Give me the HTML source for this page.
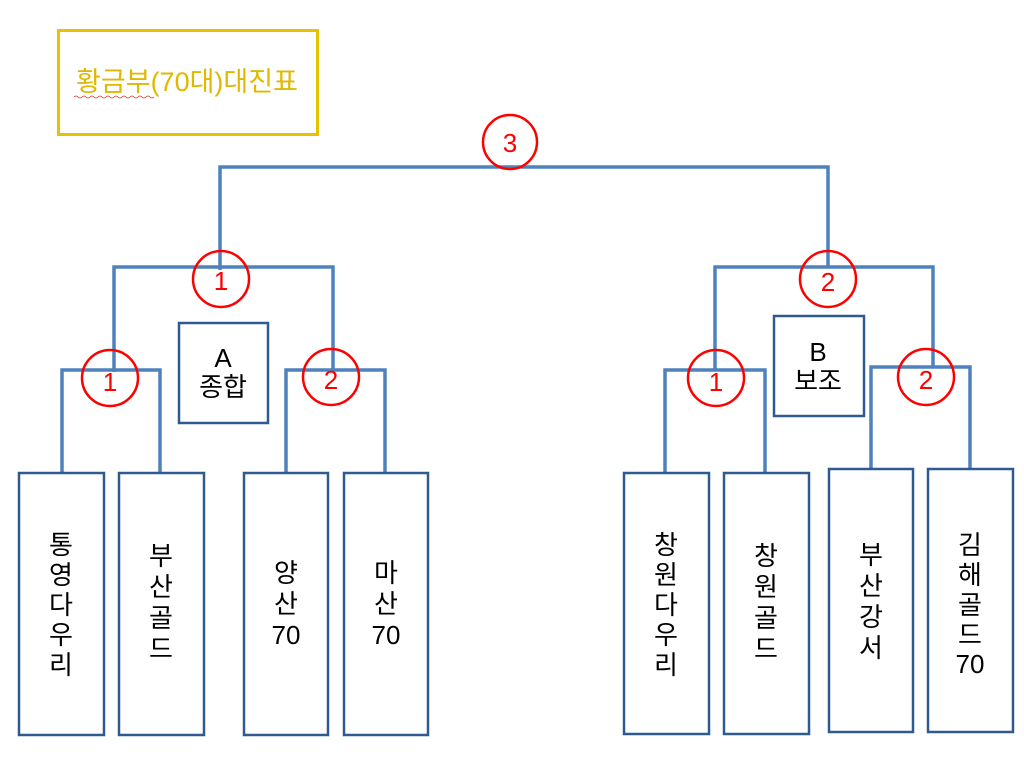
<!DOCTYPE html>
<html><head><meta charset="utf-8"><style>
html,body{margin:0;padding:0;background:#fff;}
svg{display:block;}
text{font-family:"Liberation Sans","Noto Sans CJK KR",sans-serif;}
</style></head><body>
<svg width="1024" height="757" viewBox="0 0 1024 757" xmlns="http://www.w3.org/2000/svg">
<rect x="58.5" y="30.5" width="259" height="104" fill="none" stroke="#e6c200" stroke-width="3"/>
<text x="187" y="91" font-size="27" fill="#e0b800" text-anchor="middle">황금부(70대)대진표</text>
<path d="M74 97 q2 -2 4 0 t4 0 t4 0 t4 0 t4 0 t4 0 t4 0 t4 0 t4 0 t4 0 t4 0 t4 0 t4 0 t4 0 t4 0 t4 0 t4 0 t4 0 t4 0 t4 0" fill="none" stroke="#e03030" stroke-width="0.8"/>
<g fill="none" stroke="#4f81bd" stroke-width="3.5">
<path d="M220 270 V167 H828 V267"/>
<path d="M114 372 V267 H333 V372"/>
<path d="M62 472 V370 H160 V472"/>
<path d="M286 472 V370 H385 V472"/>
<path d="M715 370 V267 H933 V367"/>
<path d="M665 472 V370 H765 V472"/>
<path d="M871 468 V367 H970 V468"/>
</g>
<g fill="#fff" stroke="#2f5a8f" stroke-width="2.5">
<rect x="19" y="473" width="85" height="262"/>
<rect x="119" y="473" width="85" height="262"/>
<rect x="244" y="473" width="84" height="262"/>
<rect x="344" y="473" width="84" height="262"/>
<rect x="624" y="473" width="85" height="261"/>
<rect x="724" y="473" width="85" height="261"/>
<rect x="829" y="469" width="84" height="263"/>
<rect x="928" y="469" width="85" height="263"/>
<rect x="179" y="323" width="89" height="100"/>
<rect x="774" y="316" width="90" height="100"/>
</g>
<g font-size="26" fill="#000" text-anchor="middle">
<text x="223" y="367">A</text><text x="223" y="396">종합</text>
<text x="818" y="361">B</text><text x="818" y="390">보조</text>
<text x="61" y="554">통</text><text x="61" y="584">영</text><text x="61" y="614">다</text><text x="61" y="644">우</text><text x="61" y="674">리</text>
<text x="161" y="565">부</text><text x="161" y="596">산</text><text x="161" y="627">골</text><text x="161" y="658">드</text>
<text x="286" y="582">양</text><text x="286" y="613">산</text><text x="286" y="644">70</text>
<text x="386" y="582">마</text><text x="386" y="613">산</text><text x="386" y="644">70</text>
<text x="666" y="554">창</text><text x="666" y="584">원</text><text x="666" y="614">다</text><text x="666" y="644">우</text><text x="666" y="674">리</text>
<text x="766" y="565">창</text><text x="766" y="596">원</text><text x="766" y="627">골</text><text x="766" y="658">드</text>
<text x="871" y="564">부</text><text x="871" y="595">산</text><text x="871" y="626">강</text><text x="871" y="657">서</text>
<text x="970" y="554">김</text><text x="970" y="584">해</text><text x="970" y="614">골</text><text x="970" y="644">드</text><text x="970" y="673">70</text>
</g>
<g fill="none" stroke="#ff0000" stroke-width="2.5">
<circle cx="510" cy="142" r="27"/>
<circle cx="221" cy="279" r="28"/>
<circle cx="828" cy="279" r="28"/>
<circle cx="110" cy="378" r="28"/>
<circle cx="331" cy="377" r="28"/>
<circle cx="716" cy="378" r="28"/>
<circle cx="926" cy="377" r="28"/>
</g>
<g font-size="26" fill="#ff0000" text-anchor="middle">
<text x="510" y="152">3</text>
<text x="221" y="290">1</text>
<text x="828" y="291">2</text>
<text x="110" y="391">1</text>
<text x="331" y="389">2</text>
<text x="716" y="391">1</text>
<text x="926" y="389">2</text>
</g>
</svg>
</body></html>
